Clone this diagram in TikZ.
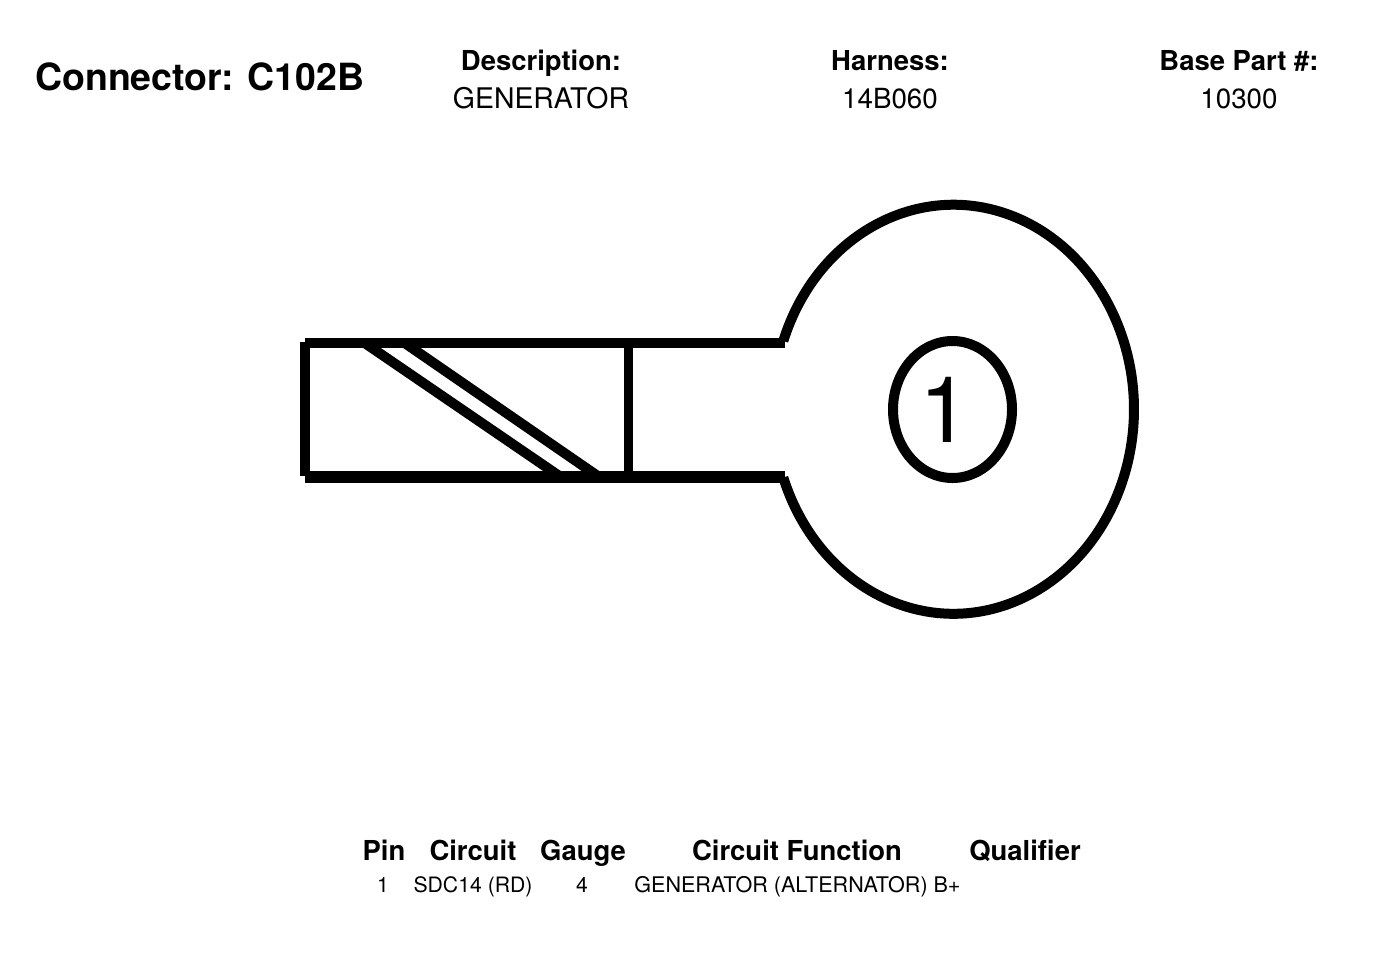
\documentclass[tikz,border=0pt]{standalone}
\usepackage{fontspec}
\setmainfont{TeX Gyre Heros}
\tikzset{
  px/.style={x=0.75pt,y=-0.75pt},
  title/.style={font=\fontsize{28.1}{30}\selectfont\bfseries,anchor=base west,inner sep=0pt},
  head/.style={font=\fontsize{20.6}{24}\selectfont\bfseries,anchor=base,inner sep=0pt},
  val/.style={font=\fontsize{20.8}{24}\selectfont,anchor=base,inner sep=0pt},
  vallong/.style={font=\fontsize{21.3}{24}\selectfont,anchor=base,inner sep=0pt},
  cell/.style={font=\fontsize{15.9}{18}\selectfont,anchor=base,inner sep=0pt},
  celllong/.style={font=\fontsize{16.15}{18}\selectfont,anchor=base,inner sep=0pt},
  pin/.style={font=\fontsize{69}{72}\selectfont,anchor=base,inner sep=0pt}
}
\begin{document}
\begin{tikzpicture}[px]
\useasboundingbox (0,0) rectangle (1376,960);
\fill[white] (0,0) rectangle (1376,960);
% body
\draw[line width=7.2pt] (305,343) -- (785,343);
\draw[line width=9pt] (305,477) -- (785,477);
\draw[line width=7.5pt] (305,342) -- (305,476);
\draw[line width=6.8pt] (628.5,343) -- (628.5,477);
\draw[line width=7.5pt] (364.7,343) -- (560.8,477);
\draw[line width=7.5pt] (404.7,343) -- (599.2,477);
% head
\draw[line width=7.5pt] (783.3,341) arc[start angle=-160.5,end angle=160.5,x radius=180.5,y radius=204.5];
\node[pin] (pinlabel) at (945,442.5) {1};
\draw[line width=7.5pt] (952.5,409.5) ellipse [x radius=59.5,y radius=68.5];
\node[title] (conn) at (35,90) {Connector: C102B};
\node[head] (hdesc) at (541,70) {Description:};
\node[vallong] (vdesc) at (541,108.5) {GENERATOR};
\node[head] (hharn) at (890,70) {Harness:};
\node[val] (vharn) at (890,108.5) {14B060};
\node[head] (hbase) at (1239,70) {Base Part \#:};
\node[val] (vbase) at (1239,108.5) {10300};
\node[head] (hpin) at (384,860) {Pin};
\node[head] (hcirc) at (473,860) {Circuit};
\node[head] (hgauge) at (583,860) {Gauge};
\node[head] (hfunc) at (797,860) {Circuit Function};
\node[head] (hqual) at (1025,860) {Qualifier};
\node[cell] (cpin) at (383,892) {1};
\node[cell] (ccirc) at (473,892) {SDC14 (RD)};
\node[cell] (cgauge) at (582,892) {4};
\node[celllong] (cfunc) at (797.5,892) {GENERATOR (ALTERNATOR) B+};
\end{tikzpicture}
\end{document}
